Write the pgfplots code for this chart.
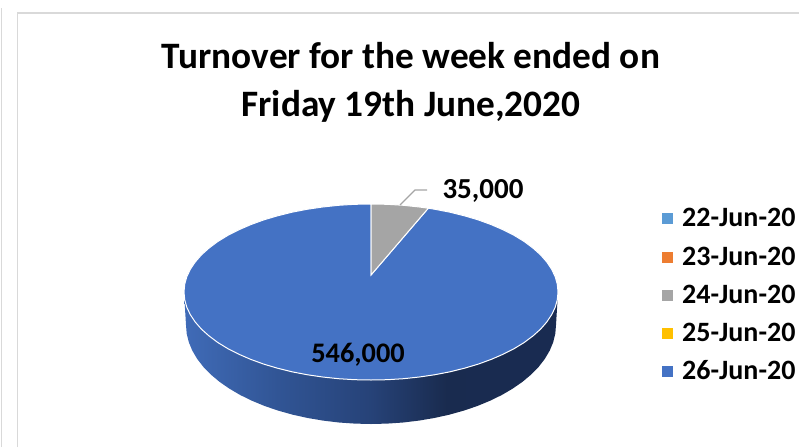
\documentclass[border=0pt]{standalone}
\usepackage{pgfplots}
\pgfplotsset{compat=1.18}
\usepackage{fontspec}
\setmainfont{Carlito}
\definecolor{pieblue}{RGB}{68,114,196}
\definecolor{piegray}{RGB}{165,165,165}
\definecolor{lgblue}{RGB}{91,155,213}
\definecolor{lgorange}{RGB}{237,125,49}
\definecolor{lgyellow}{RGB}{255,192,0}
\definecolor{frameg}{RGB}{217,217,217}
\pgfdeclarehorizontalshading{pieside}{100bp}{
  rgb(0bp)=(0.25,0.42,0.72);
  rgb(25bp)=(0.25,0.42,0.72);
  rgb(38bp)=(0.19,0.33,0.58);
  rgb(50bp)=(0.15,0.26,0.47);
  rgb(60bp)=(0.10,0.17,0.31);
  rgb(75bp)=(0.10,0.17,0.32);
  rgb(100bp)=(0.10,0.17,0.32)}
\begin{document}
\begin{tikzpicture}
\begin{axis}[
  width=799pt, height=447pt, scale only axis,
  xmin=0, xmax=799, ymin=0, ymax=447, y dir=reverse,
  hide axis, clip=true,
]
% frame lines
\addplot[frameg, line width=1.6pt, forget plot] coordinates {(17.5,447) (17.5,13) (799,13)};
\addplot[frameg, line width=1.4pt, forget plot] coordinates {(1.5,447) (1.5,8)};
% side of the pie
\addplot[draw=none, shading=pieside, forget plot] coordinates {
(558,292)(557.3,299.7)(555.2,307.3)(551.6,314.8)(546.7,322.1)(540.5,329.2)(532.9,336)(524.2,342.5)(514.2,348.6)(503.2,354.2)(491.2,359.4)(478.3,364.1)(464.5,368.2)(450,371.8)(435,374.7)(419.4,377)(403.5,378.7)(387.3,379.7)(371,380)(354.7,379.7)(338.5,378.7)(322.6,377)(307,374.7)(292,371.8)(277.5,368.2)(263.7,364.1)(250.8,359.4)(238.8,354.2)(227.8,348.6)(217.8,342.5)(209.1,336)(201.5,329.2)(195.3,322.1)(190.4,314.8)(186.8,307.3)(184.7,299.7)(184,292)
(186,325)(186.7,333.6)(188.8,342.2)(192.3,350.6)(197.2,358.9)(203.3,366.8)(210.8,374.5)(219.5,381.8)(229.3,388.6)(240.2,395)(252.1,400.8)(264.9,406.1)(278.5,410.7)(292.8,414.7)(307.7,418)(323.1,420.6)(338.9,422.5)(354.9,423.6)(371,424)
(387.1,423.6)(403.1,422.5)(418.9,420.6)(434.3,418)(449.2,414.7)(463.5,410.7)(477.1,406.1)(489.9,400.8)(501.8,395)(512.7,388.6)(522.5,381.8)(531.2,374.5)(538.7,366.8)(544.8,358.9)(549.7,350.6)(553.2,342.2)(555.3,333.6)(556,325)
} -- cycle;
% 546,000 slice
\addplot[fill=pieblue, draw=white, line width=1pt, forget plot] coordinates {
(371,275)(428.3,208.2)(435,209.3)(450,212.2)(464.5,215.8)(478.3,219.9)(491.2,224.6)(503.2,229.8)(514.2,235.4)(524.2,241.5)(532.9,248)(540.5,254.8)(546.7,261.9)(551.6,269.2)(555.2,276.7)(557.3,284.3)(558,292)
(557.3,299.7)(555.2,307.3)(551.6,314.8)(546.7,322.1)(540.5,329.2)(532.9,336)(524.2,342.5)(514.2,348.6)(503.2,354.2)(491.2,359.4)(478.3,364.1)(464.5,368.2)(450,371.8)(435,374.7)(419.4,377)(403.5,378.7)(387.3,379.7)(371,380)
(354.7,379.7)(338.5,378.7)(322.6,377)(307,374.7)(292,371.8)(277.5,368.2)(263.7,364.1)(250.8,359.4)(238.8,354.2)(227.8,348.6)(217.8,342.5)(209.1,336)(201.5,329.2)(195.3,322.1)(190.4,314.8)(186.8,307.3)(184.7,299.7)(184,292)
(184.7,284.3)(186.8,276.7)(190.4,269.2)(195.3,261.9)(201.5,254.8)(209.1,248)(217.8,241.5)(227.8,235.4)(238.8,229.8)(250.8,224.6)(263.7,219.9)(277.5,215.8)(292,212.2)(307,209.3)(322.6,207)(338.5,205.3)(354.7,204.3)(371,204)
} -- cycle;
% 35,000 slice
\addplot[fill=piegray, draw=white, line width=1pt, forget plot] coordinates {
(371,275)(371,204)(387.3,204.3)(403.5,205.3)(419.4,207)(428.3,208.2)
} -- cycle;
% leader line
\addplot[piegray, line width=1.3pt, forget plot] coordinates {(400,205)(415,190)(427,190)};
% legend keys
\addplot[only marks, mark=square*, mark size=5pt, mark options={lgblue, draw=none}, forget plot] coordinates {(667,218)};
\addplot[only marks, mark=square*, mark size=5pt, mark options={lgorange, draw=none}, forget plot] coordinates {(667,257)};
\addplot[only marks, mark=square*, mark size=5pt, mark options={piegray, draw=none}, forget plot] coordinates {(667,295)};
\addplot[only marks, mark=square*, mark size=5pt, mark options={lgyellow, draw=none}, forget plot] coordinates {(667,333)};
\addplot[only marks, mark=square*, mark size=5pt, mark options={pieblue, draw=none}, forget plot] coordinates {(667,371)};
% text
\node[font=\fontsize{37.3}{47.5}\selectfont\bfseries, align=center, anchor=center] at (axis cs:411,82.5) {Turnover for the week ended on\\Friday 19th June,2020};
\node[font=\fontsize{29}{32}\selectfont\bfseries, anchor=center] at (axis cs:483,191) {35,000};
\node[font=\fontsize{28.3}{32}\selectfont\bfseries, anchor=center] at (axis cs:358,355) {546,000};
\foreach \yy/\tt in {217/22-Jun-20,256/23-Jun-20,294/24-Jun-20,332/25-Jun-20,370/26-Jun-20}{
  \edef\tmp{\noexpand\node[font=\noexpand\fontsize{28}{32}\noexpand\selectfont\noexpand\bfseries, anchor=west, inner sep=0pt] at (axis cs:682,\yy) {\tt};}
  \tmp
}
\end{axis}
\pgfresetboundingbox
\path[use as bounding box] (current axis.south west) rectangle (current axis.north east);
\end{tikzpicture}
\end{document}
